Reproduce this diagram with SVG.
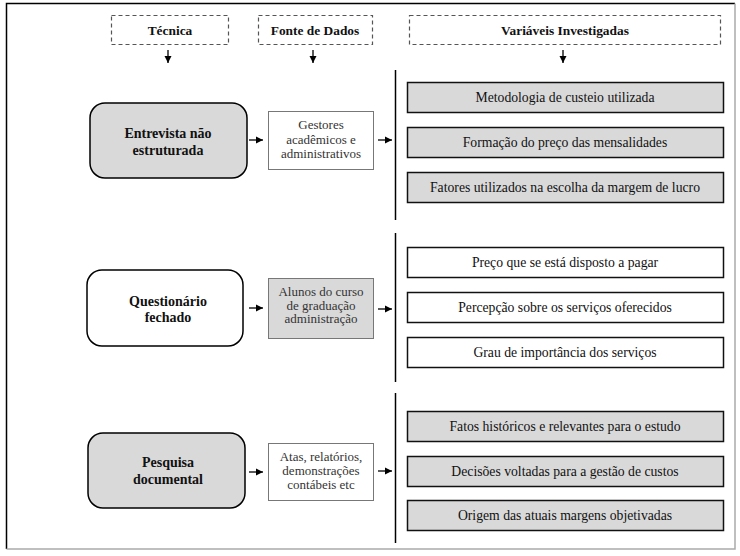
<svg xmlns="http://www.w3.org/2000/svg" width="740" height="556" viewBox="0 0 740 556" font-family="Liberation Serif, Times New Roman, serif">
<defs>
<marker id="ah" markerWidth="8" markerHeight="8" refX="7" refY="4" orient="auto" markerUnits="userSpaceOnUse">
<path d="M0,0.5 L7,4 L0,7.5 Z" fill="#000"/>
</marker>
<style>
text{fill:#111;text-anchor:middle}
.hdr{font-size:13.4px;font-weight:bold}
.tec{font-size:14px;font-weight:bold}
.src{font-size:13px;fill:#333}
.var{font-size:13.7px}
.dash{fill:#fff;stroke:#555;stroke-width:1.2;stroke-dasharray:4,3}
.round{stroke:#000;stroke-width:1.5}
.srcbox{stroke:#777;stroke-width:1}
.varbox{stroke:#111;stroke-width:1.5}
.g{fill:#d9d9d9}
.w{fill:#fff}
.conn{stroke:#000;stroke-width:1.3;fill:none}
.bar{stroke:#000;stroke-width:1.5}
</style>
</defs>
<rect x="0" y="0" width="740" height="556" fill="#fff"/>
<g id="frame">
<path d="M6.5,549 L6.5,3.5 L735,3.5" fill="none" stroke="#000" stroke-width="1.5"/>
<path d="M735,3.5 L735,549 L6.5,549" fill="none" stroke="#aaa" stroke-width="1.5"/>
</g>
<g id="h-tecnica"><rect class="dash" x="111.5" y="15.5" width="117" height="29"/><text class="hdr" x="170" y="34.5">Técnica</text></g>
<g id="h-fonte"><rect class="dash" x="258.5" y="15.5" width="114" height="29"/><text class="hdr" x="315" y="34.5">Fonte de Dados</text></g>
<g id="h-var"><rect class="dash" x="409.5" y="15.5" width="311" height="29"/><text class="hdr" x="565" y="34.5">Variáveis Investigadas</text></g>

<g id="t1"><rect class="round g" x="90" y="103" width="157" height="75" rx="15"/><text class="tec" x="168" y="138">Entrevista não</text><text class="tec" x="168" y="155">estruturada</text></g>
<g id="t2"><rect class="round w" x="87" y="270" width="156" height="76" rx="15"/><text class="tec" x="168" y="306">Questionário</text><text class="tec" x="168" y="322">fechado</text></g>
<g id="t3"><rect class="round g" x="88" y="433" width="157" height="75" rx="15"/><text class="tec" x="168" y="467">Pesquisa</text><text class="tec" x="168" y="484">documental</text></g>

<g id="s1"><rect class="srcbox w" x="268.5" y="111.5" width="105" height="58"/><text class="src" x="321" y="129">Gestores</text><text class="src" x="321" y="144">acadêmicos e</text><text class="src" x="321" y="158">administrativos</text></g>
<g id="s2"><rect class="srcbox g" x="268.5" y="278.5" width="105" height="60"/><text class="src" x="321" y="296">Alunos do curso</text><text class="src" x="321" y="309.5">de graduação</text><text class="src" x="321" y="323">administração</text></g>
<g id="s3"><rect class="srcbox w" x="268.5" y="443.5" width="105" height="57"/><text class="src" x="321" y="461">Atas, relatórios,</text><text class="src" x="321" y="475">demonstrações</text><text class="src" x="321" y="489">contábeis etc</text></g>

<g id="v1"><rect class="varbox g" x="407.5" y="82.5" width="316" height="30"/><text class="var" x="565" y="102">Metodologia de custeio utilizada</text></g>
<g id="v2"><rect class="varbox g" x="407.5" y="127.5" width="316" height="30"/><text class="var" x="565" y="147">Formação do preço das mensalidades</text></g>
<g id="v3"><rect class="varbox g" x="407.5" y="172.5" width="316" height="30"/><text class="var" x="565" y="192">Fatores utilizados na escolha da margem de lucro</text></g>
<g id="v4"><rect class="varbox w" x="407.5" y="247.5" width="316" height="30"/><text class="var" x="565" y="267">Preço que se está disposto a pagar</text></g>
<g id="v5"><rect class="varbox w" x="407.5" y="292.5" width="316" height="30"/><text class="var" x="565" y="312">Percepção sobre os serviços oferecidos</text></g>
<g id="v6"><rect class="varbox w" x="407.5" y="337.5" width="316" height="30"/><text class="var" x="565" y="357">Grau de importância dos serviços</text></g>
<g id="v7"><rect class="varbox g" x="407.5" y="411.5" width="316" height="30"/><text class="var" x="565" y="431">Fatos históricos e relevantes para o estudo</text></g>
<g id="v8"><rect class="varbox g" x="407.5" y="456.5" width="316" height="30"/><text class="var" x="565" y="476">Decisões voltadas para a gestão de custos</text></g>
<g id="v9"><rect class="varbox g" x="407.5" y="500.5" width="316" height="30"/><text class="var" x="565" y="520">Origem das atuais margens objetivadas</text></g>

<g id="connectors">
<line class="conn" x1="168" y1="50" x2="168" y2="63" marker-end="url(#ah)"/>
<line class="conn" x1="313" y1="50" x2="313" y2="63" marker-end="url(#ah)"/>
<line class="conn" x1="563" y1="50" x2="563" y2="63" marker-end="url(#ah)"/>
<line class="conn" x1="249" y1="140" x2="263" y2="140" marker-end="url(#ah)"/>
<line class="conn" x1="378" y1="140" x2="392" y2="140" marker-end="url(#ah)"/>
<line class="bar" x1="395.5" y1="70" x2="395.5" y2="220"/>
<line class="conn" x1="249" y1="308" x2="263" y2="308" marker-end="url(#ah)"/>
<line class="conn" x1="378" y1="309" x2="392" y2="309" marker-end="url(#ah)"/>
<line class="bar" x1="395.5" y1="233" x2="395.5" y2="382"/>
<line class="conn" x1="249" y1="472" x2="263" y2="472" marker-end="url(#ah)"/>
<line class="conn" x1="378" y1="471" x2="392" y2="471" marker-end="url(#ah)"/>
<line class="bar" x1="395.5" y1="393" x2="395.5" y2="543"/>
</g>
</svg>
